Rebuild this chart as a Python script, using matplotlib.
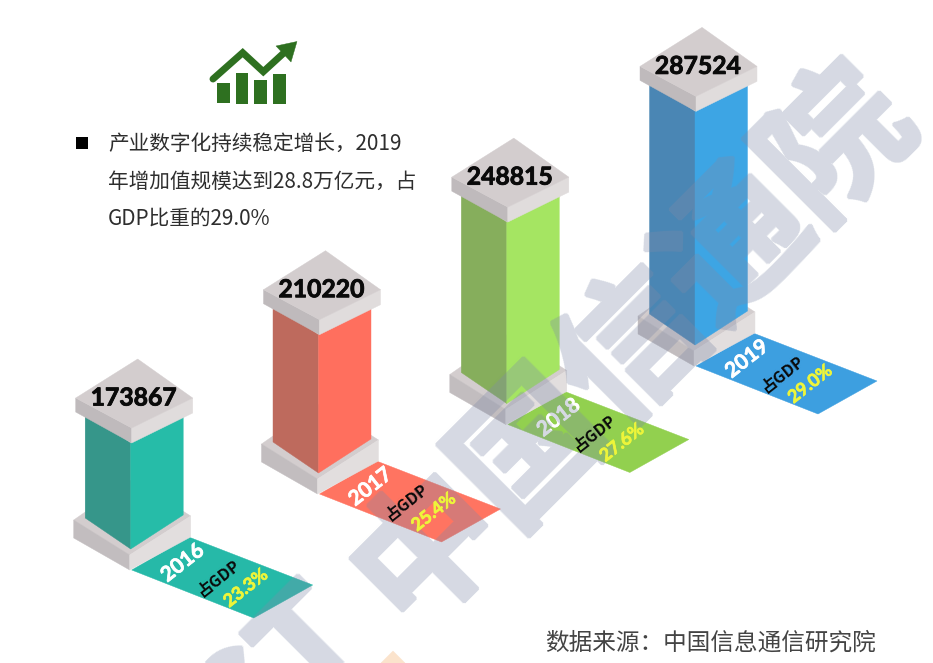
import matplotlib
matplotlib.use("Agg")
import matplotlib.pyplot as plt
import matplotlib.patheffects as pe
import numpy as np
from matplotlib.patches import Polygon, Rectangle

plt.rcParams['font.family'] = ['Noto Sans CJK SC', 'DejaVu Sans']

years = ['2016', '2017', '2018', '2019']
values = [173867, 210220, 248815, 287524]
shares = ['23.3%', '25.4%', '27.6%', '29.0%']
share_label = '占GDP'
body_lines = ['产业数字化持续稳定增长，2019', '年增加值规模达到28.8万亿元，占', 'GDP比重的29.0%']
source = '数据来源：中国信息通信研究院'
watermark = '中国信通院'
watermark_latin = 'CT'

left_colors = ['#36968A', '#BE6A5D', '#86AE5C', '#4A86B4']
right_colors = ['#26BCA8', '#FF6F5E', '#A5E562', '#3DA5E4']
floor_colors = ['#26B9A8', '#FF7461', '#92D04F', '#3D9FE0']

# layout: front-bottom corner of each column on the isometric floor (px)
foot_x = [130.7, 318.5, 506.8, 695.0]
foot_y = [549.0, 473.0, 403.5, 345.0]


def column_height(v):
    """The source's (non-proportional) value -> pixel height scale."""
    t = v / 1e5
    return 30.3 * t * t - 27.5 * t + 62.2


def heavy_translucent(img, dpi):
    """Thicken the glyphs a little and make them uniformly see-through."""
    pad = 3
    a = np.pad(img[..., 3], pad)
    grown = a.copy()
    for dx in range(-2, 3):
        for dy in range(-2, 3):
            if dx * dx + dy * dy <= 5:
                grown = np.maximum(grown, np.roll(np.roll(a, dx, axis=1), dy, axis=0))
    out = np.zeros(grown.shape + (4,), dtype=img.dtype)
    out[..., 0] = 0x7F / 255
    out[..., 1] = 0x8A / 255
    out[..., 2] = 0xA8 / 255
    out[..., 3] = grown * 0.32
    return out, -pad, -pad


fig = plt.figure(figsize=(9.33, 6.63), dpi=100, facecolor='white')
ax = fig.add_axes([0, 0, 1, 1])
ax.set_xlim(0, 933)
ax.set_ylim(663, 0)
ax.axis('off')


def poly(pts, color, z=2, **kw):
    ax.add_patch(Polygon(pts, closed=True, facecolor=color, edgecolor=color, linewidth=0.3, zorder=z, **kw))


VALUE_FONT = 'Lato'
for i, (yr, v, sh) in enumerate(zip(years, values, shares)):
    fx, fy = foot_x[i], foot_y[i]
    h = column_height(v)
    cy = fy - h
    # floor label
    poly([(fx + 58, fy - 12), (fx + 182, fy + 36), (fx + 123, fy + 69), (fx + 1, fy + 21)], floor_colors[i])
    # base slab
    poly([(fx - 57, fy - 29), (fx - 1, fy + 6), (fx + 60, fy - 33), (fx + 2, fy - 70)], '#D3CDCE')
    poly([(fx - 57, fy - 29), (fx - 1, fy + 6), (fx - 1, fy + 21), (fx - 57, fy - 11)], '#C2BDBF')
    poly([(fx - 1, fy + 6), (fx + 60, fy - 33), (fx + 60, fy - 12), (fx - 1, fy + 21)], '#E2DEDE')
    # shaft
    poly([(fx - 45.5, fy - 31), (fx, fy), (fx, cy), (fx - 45.5, cy - 31)], left_colors[i], z=3)
    poly([(fx, fy), (fx + 52.5, fy - 34), (fx + 52.5, cy - 34), (fx, cy)], right_colors[i], z=3)
    # cap
    poly([(fx - 55, cy - 45), (fx + 1, cy - 15), (fx + 1, cy), (fx - 55, cy - 31)], '#BFBABC', z=4)
    poly([(fx + 1, cy - 15), (fx + 62, cy - 45), (fx + 62, cy - 30), (fx + 1, cy)], '#E0DCDC', z=4)
    poly([(fx + 7, cy - 84), (fx - 55, cy - 45), (fx + 1, cy - 15), (fx + 62, cy - 45)], '#D3CDCE', z=4)
    ax.text(fx + 3, cy - 45, f'{v}', family=VALUE_FONT, weight='bold', fontsize=17.8, color='#0A0A0A',
            ha='center', va='center', zorder=7,
            path_effects=[pe.withStroke(linewidth=0.6, foreground='#0A0A0A')])
    # floor texts
    ax.text(fx + 52, fy + 14, yr, family=VALUE_FONT, weight='bold', fontsize=15, color='white', rotation=38,
            ha='center', va='center', rotation_mode='anchor', zorder=5,
            path_effects=[pe.withStroke(linewidth=0.5, foreground='white')])
    ax.text(fx + 88, fy + 29, share_label, weight='bold', fontsize=11.5, color='#0A0A0A', rotation=38,
            ha='center', va='center', rotation_mode='anchor', zorder=7)
    ax.text(fx + 115, fy + 39, sh, family=VALUE_FONT, weight='bold', fontsize=13, color='#EDF53A', rotation=38,
            ha='center', va='center', rotation_mode='anchor', zorder=7,
            path_effects=[pe.withStroke(linewidth=0.5, foreground='#EDF53A')])

# watermark
wm = dict(color='#7F8AA8', weight='bold', rotation=45, rotation_mode='anchor', va='center', zorder=6)
ax.text(632, 342, watermark, fontsize=104, ha='center', **wm).set_agg_filter(heavy_translucent)
ax.text(345, 612, watermark_latin, fontsize=104, ha='right', **wm).set_agg_filter(heavy_translucent)
poly([(393, 651), (405, 663), (381, 663)], '#FBE3CC', z=6)

# icon
for x0, x1, y0 in [(217.3, 230, 83.3), (235.7, 248.3, 72.7), (254.3, 267.3, 80), (273.3, 286, 74)]:
    ax.add_patch(Rectangle((x0, y0), x1 - x0, 103.5 - y0, facecolor='#2E7020', edgecolor='none', zorder=8))
ax.plot([213, 242.7, 263.3, 287], [79, 52.7, 71.7, 50], color='#2E7020', lw=5,
        solid_joinstyle='miter', solid_capstyle='round', zorder=8)
poly([(297, 41.5), (276, 46), (291, 62)], '#2E7020', z=8)

# body text
ax.add_patch(Rectangle((76, 137), 12, 12, facecolor='black', edgecolor='none', zorder=8))
for line, y in zip(body_lines, [144, 182, 219]):
    ax.text(108, y, line, fontsize=14.9, color='#2E2E2E', ha='left', va='center', zorder=8)

ax.text(710, 643, source, fontsize=17, color='#444444', ha='center', va='center', zorder=8)

fig.savefig('out.png', dpi=100, facecolor='white')
